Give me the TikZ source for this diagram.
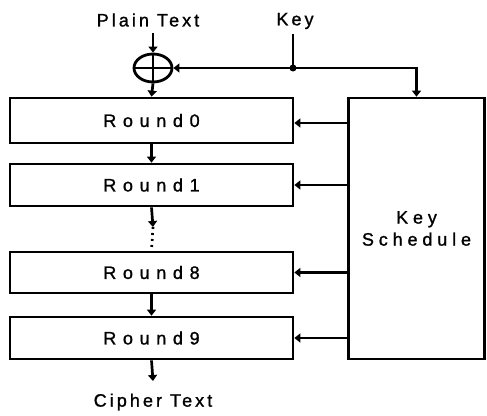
\documentclass[tikz,border=0pt]{standalone}
\usepackage{fontspec}
\usetikzlibrary{arrows.meta,shapes.geometric}
\newfontfamily\lblfont[LetterSpace=17,FakeBold=1.2]{Liberation Sans}
\newfontfamily\rndfont[LetterSpace=37,FakeBold=1.2]{Liberation Sans}
\newfontfamily\ksfont[LetterSpace=27,FakeBold=1.2]{Liberation Sans}
\begin{document}
\begin{tikzpicture}[x=1pt,y=-1pt,
  line width=2.7pt,
  arr/.style={-{Triangle[width=9pt,length=6pt]}},
  rbox/.style={draw,rectangle,minimum width=283pt,inner sep=0pt,font=\rndfont\fontsize{18}{20}\selectfont},
  lbl/.style={inner sep=0pt,font=\lblfont\fontsize{18}{20}\selectfont}]
\useasboundingbox (0,0) rectangle (487,415);
\node[lbl] (pt) at (148,20) {Plain Text};
\node[lbl] (key) at (295,21) {Key};
\node[draw,ellipse,minimum width=38pt,minimum height=28pt,inner sep=0pt,line width=2.8pt] (xor) at (153,68) {};
\draw[line width=2.4pt] (xor.north) -- (xor.south) (xor.west) -- (xor.east);
\node[rbox,minimum height=45pt] (r0) at (151.5,120.5) {Round0};
\node[rbox,minimum height=42pt] (r1) at (151.5,185) {Round1};
\node[rbox,minimum height=41pt] (r8) at (151.5,272.5) {Round8};
\node[rbox,minimum height=42pt] (r9) at (151.5,338) {Round9};
\node[draw,rectangle,minimum width=136pt,minimum height=261pt,inner sep=0pt,align=center,font=\ksfont\fontsize{18}{22}\selectfont] (ks) at (416.5,228.5) {Key\\Schedule};
\node[lbl] (ct) at (153,402) {Cipher Text};
\fill (293,68) circle (3.5pt) coordinate (dot);
\coordinate (d1) at (153,227);
\coordinate (out) at (153,381);
\coordinate (ptin) at (153,33);
\coordinate (keyin) at (293,34);
\draw[arr] (ptin) -- (xor.north);
\draw (keyin) -- (dot);
\draw[arr] (dot) -- (xor.east);
\draw[arr] (dot) -| (ks.north);
\draw[arr] (xor.south) -- (r0.north);
\draw[arr] (r0.south) -- (r1.north);
\draw[arr] (r1.south) -- (d1);
\draw[dash pattern=on 2pt off 4pt] (d1) -- (r8.north);
\draw[arr] (r8.south) -- (r9.north);
\draw[arr] (r9.south) -- (out);
\draw[arr] (ks.west |- 0,123) -- (r0.east |- 0,123);
\draw[arr] (ks.west |- r1) -- (r1.east);
\draw[arr] (ks.west |- r8) -- (r8.east);
\draw[arr] (ks.west |- r9) -- (r9.east);
\end{tikzpicture}
\end{document}
